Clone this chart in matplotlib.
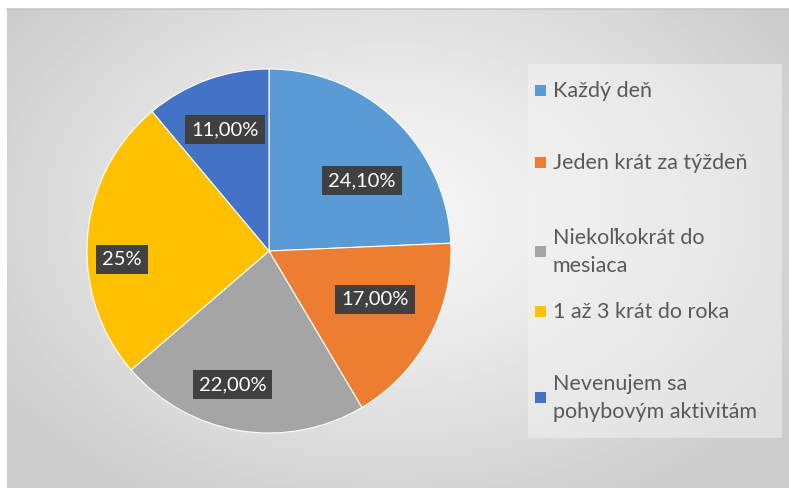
import numpy as np
import matplotlib
matplotlib.use("Agg")
import matplotlib.pyplot as plt
from matplotlib.patches import Rectangle

categories = ["Každý deň", "Jeden krát za týždeň", "Niekoľkokrát do\nmesiaca",
              "1 až 3 krát do roka", "Nevenujem sa\npohybovým aktivitám"]
values = [24.1, 17.0, 22.0, 25.0, 11.0]
value_labels = ["24,10%", "17,00%", "22,00%", "25%", "11,00%"]
colors = ["#5B9BD5", "#ED7D31", "#A5A5A5", "#FFC000", "#4472C4"]
label_dist = [0.64, 0.64, 0.76, 0.81, 0.71]
label_angle_shift = [-9, 4, -6, 8, 0]

W, H = 789, 488
fig = plt.figure(figsize=(W / 100, H / 100), dpi=100)
fig.patch.set_facecolor("white")

# background radial gradient (chart area)
bg = fig.add_axes([0, 0, 1, 1], zorder=0)
bg.set_xlim(0, W)
bg.set_ylim(H, 0)
bg.axis("off")
x0, x1, y0, y1 = 7, 789, 9, 488
yy, xx = np.mgrid[y0:y1, x0:x1]
cx, cy = 390, 215
d = np.sqrt(((xx - cx) / 470.0) ** 2 + ((yy - cy) / 330.0) ** 2)
d = np.clip(d, 0, 1)
light, dark = 0.965, 0.80
img = light - (light - dark) * d ** 1.3
bg.imshow(img, cmap="gray", vmin=0, vmax=1, extent=(x0, x1, y1, y0),
          interpolation="bilinear", aspect="auto")
bg.plot([x0, x1], [y0, y0], color="#c8c8c8", lw=1.2)
# legend box
bg.add_patch(Rectangle((528, 64), 254, 374, facecolor="#f4f4f4", alpha=0.5,
                       edgecolor="none"))

# pie
r = 182
pcx, pcy = 269, 251
ax = fig.add_axes([(pcx - r) / W, (H - pcy - r) / H, 2 * r / W, 2 * r / H], zorder=2)
ax.set_xlim(-1, 1)
ax.set_ylim(-1, 1)
ax.axis("off")
wedges, _ = ax.pie(values, colors=colors, startangle=90, counterclock=False, radius=1.0,
                   wedgeprops=dict(edgecolor="white", linewidth=0.8), normalize=True)
ax.set_xlim(-1, 1)
ax.set_ylim(-1, 1)

for w, lab, dist, sh in zip(wedges, value_labels, label_dist, label_angle_shift):
    ang = np.deg2rad((w.theta1 + w.theta2) / 2 + sh)
    ax.text(dist * np.cos(ang), dist * np.sin(ang), lab, ha="center", va="center",
            color="white", fontsize=14.5, family=["Lato", "DejaVu Sans"],
            bbox=dict(boxstyle="square,pad=0.3", facecolor="#404040", edgecolor="none"),
            zorder=5)

# legend
ly = [91, 163, 252, 312, 398]
for cat, col, y in zip(categories, colors, ly):
    bg.add_patch(Rectangle((535, y - 6), 11, 11, facecolor=col, edgecolor="none", zorder=3))
    bg.text(553, y, cat, ha="left", va="center", fontsize=15.5, color="#595959",
            family=["Lato", "DejaVu Sans"], linespacing=1.55, zorder=3)

fig.savefig("out.png", dpi=100)
